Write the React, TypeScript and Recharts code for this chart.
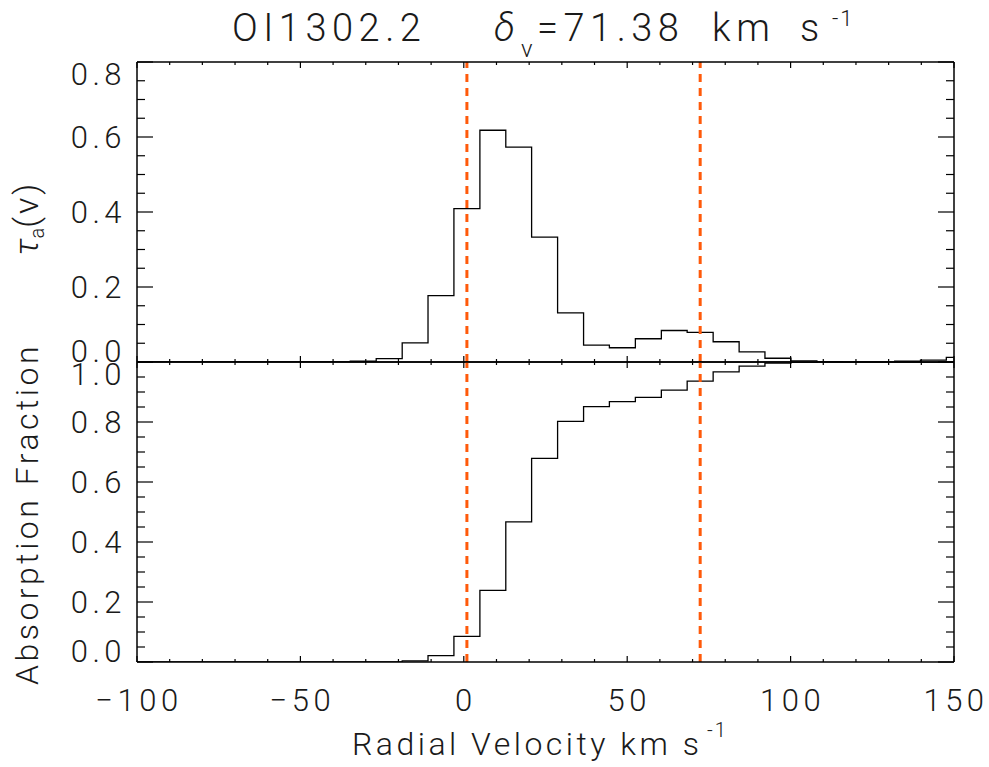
import React from 'react';
import { LineChart, Line, XAxis, YAxis, ReferenceLine } from 'recharts';

// ---- data ----
const velocity = [
  -102.1, -94.2, -86.2, -78.3, -70.4, -62.4, -54.5, -46.6, -38.7, -30.8, -22.8, -14.9, -7.0,
  0.95, 8.9, 16.8, 24.7, 32.7, 40.6, 48.5, 56.5, 64.4, 72.3, 80.3, 88.2, 96.1, 104.1, 112.0,
  119.9, 127.9, 135.8, 143.7, 151.6,
];
const tauA = [
  0, 0, 0, 0, 0, 0, 0, 0, 0, 0.002, 0.009, 0.051, 0.177,
  0.409, 0.618, 0.573, 0.333, 0.131, 0.045, 0.038, 0.062, 0.084, 0.079, 0.054, 0.027, 0.010, 0.003, 0.001,
  0.0, 0.0, 0.002, 0.005, 0.0125,
];
const absFraction = [
  0, 0, 0, 0, 0, 0, 0, 0, 0, 0, 0, 0.004, 0.021,
  0.0855, 0.239, 0.467, 0.679, 0.802, 0.851, 0.868, 0.882, 0.906, 0.936, 0.967, 0.986, 0.996, 0.999, 1.0,
  1.0, 1.0, 1.0, 1.0, 1.0,
];
const xTicks = [-100, -90, -80, -70, -60, -50, -40, -30, -20, -10, 0, 10, 20, 30, 40, 50, 60, 70, 80, 90, 100, 110, 120, 130, 140, 150];
const xMajorTicks = [-100, -50, 0, 50, 100, 150];
const xTickLabels = ['\u2212100', '\u221250', '0', '50', '100', '150'];
const tauTicks = [0, 0.05, 0.1, 0.15, 0.2, 0.25, 0.3, 0.35, 0.4, 0.45, 0.5, 0.55, 0.6, 0.65, 0.7, 0.75, 0.8];
const tauMajorTicks = [0, 0.2, 0.4, 0.6, 0.8];
const tauTickLabels = ['0.0', '0.2', '0.4', '0.6', '0.8'];
const fracTicks = [0, 0.05, 0.1, 0.15, 0.2, 0.25, 0.3, 0.35, 0.4, 0.45, 0.5, 0.55, 0.6, 0.65, 0.7, 0.75, 0.8, 0.85, 0.9, 0.95, 1.0];
const fracMajorTicks = [0, 0.2, 0.4, 0.6, 0.8, 1.0];
const fracTickLabels = ['0.0', '0.2', '0.4', '0.6', '0.8', '1.0'];
const vMin = 0.95;
const vMax = 72.33;
const lineName = 'OI1302.2';
const deltaV = '71.38';

const data = velocity.map((v, i) => ({ v, tau: tauA[i], frac: absFraction[i] }));

// ---- layout ----
const W = 989;
const H = 767;
const L = 137;
const R = 954;
const T1 = 62;
const MID = 362;
const B = 662;
const FONT = 'Roboto, "DejaVu Sans", sans-serif';
const TXT = '#1a1a1a';
const ORANGE = '#ff5a0a';

const majorIndex = (v: number, majors: number[]) => majors.findIndex((m) => Math.abs(m - v) < 1e-6);

function makeXTick(dir: number, showLabels: boolean) {
  return (props: any) => {
    const { x, y, payload } = props;
    const idx = majorIndex(payload.value, xMajorTicks);
    const len = idx >= 0 ? 6 : 3;
    return (
      <g>
        <line x1={x} x2={x} y1={y} y2={y + dir * len} stroke="#000" strokeWidth={1.2} />
        {showLabels && idx >= 0 && (
          <text
            x={x + 2}
            y={y + 38}
            textAnchor="middle"
            dominantBaseline="central"
            fontFamily={FONT}
            fontWeight={300}
            fontSize={31}
            letterSpacing={4.5}
            fill={TXT}
          >
            {xTickLabels[idx]}
          </text>
        )}
      </g>
    );
  };
}

function makeYTick(dir: number, majors: number[], labels: string[] | null, lo: number, hi: number) {
  return (props: any) => {
    const { x, y, payload } = props;
    const v = payload.value;
    const idx = majorIndex(v, majors);
    const len = idx >= 0 ? 16 : 8;
    let dy = 0;
    if (Math.abs(v - hi) < 1e-6) dy = 12;
    if (Math.abs(v - lo) < 1e-6) dy = -11;
    return (
      <g>
        <line x1={x} x2={x + dir * len} y1={y} y2={y} stroke="#000" strokeWidth={1.2} />
        {labels && idx >= 0 && (
          <text
            x={x - 11}
            y={y + dy}
            textAnchor="end"
            dominantBaseline="central"
            fontFamily={FONT}
            fontWeight={300}
            fontSize={31}
            letterSpacing={4.5}
            fill={TXT}
          >
            {labels[idx]}
          </text>
        )}
      </g>
    );
  };
}

const axisLine = { stroke: '#000', strokeWidth: 1.5 };

function Panel(props: {
  top: number;
  bottom: number;
  dataKey: string;
  yDomain: [number, number];
  yTicks: number[];
  yMajors: number[];
  yLabels: string[];
  showXLabels: boolean;
}) {
  const { top, bottom, dataKey, yDomain, yTicks, yMajors, yLabels, showXLabels } = props;
  return (
    <div style={{ position: 'absolute', left: 0, top: 0 }}>
      <LineChart
        width={W}
        height={H}
        data={data}
        margin={{ top: top - 1, left: L - 1, right: W - R - 1, bottom: H - bottom - 1 }}
      >
        <XAxis
          xAxisId="b"
          dataKey="v"
          type="number"
          domain={[-100, 150]}
          allowDataOverflow
          ticks={xTicks}
          interval={0}
          height={1}
          tickSize={0}
          tickMargin={0}
          axisLine={axisLine}
          tickLine={false}
          tick={makeXTick(-1, showXLabels)}
        />
        <XAxis
          xAxisId="t"
          orientation="top"
          dataKey="v"
          type="number"
          domain={[-100, 150]}
          allowDataOverflow
          ticks={xTicks}
          interval={0}
          height={1}
          tickSize={0}
          tickMargin={0}
          axisLine={axisLine}
          tickLine={false}
          tick={makeXTick(1, false)}
        />
        <YAxis
          yAxisId="l"
          type="number"
          domain={yDomain}
          allowDataOverflow
          ticks={yTicks}
          interval={0}
          width={1}
          tickSize={0}
          tickMargin={0}
          axisLine={axisLine}
          tickLine={false}
          tick={makeYTick(1, yMajors, yLabels, yDomain[0], yDomain[1])}
        />
        <YAxis
          yAxisId="r"
          orientation="right"
          type="number"
          domain={yDomain}
          allowDataOverflow
          ticks={yTicks}
          interval={0}
          width={1}
          tickSize={0}
          tickMargin={0}
          axisLine={axisLine}
          tickLine={false}
          tick={makeYTick(-1, yMajors, null, yDomain[0], yDomain[1])}
        />
        <Line
          xAxisId="b"
          yAxisId="l"
          dataKey={dataKey}
          type="step"
          stroke="#000"
          strokeWidth={1.3}
          dot={false}
          activeDot={false}
          isAnimationActive={false}
        />
        <ReferenceLine xAxisId="b" yAxisId="l" x={vMin} stroke={ORANGE} strokeWidth={3} strokeDasharray="8 6" />
        <ReferenceLine xAxisId="b" yAxisId="l" x={vMax} stroke={ORANGE} strokeWidth={3} strokeDasharray="8 6" />
      </LineChart>
    </div>
  );
}

export default function App() {
  const textProps = { fontFamily: FONT, fontWeight: 300, fill: TXT } as any;
  return (
    <div style={{ position: 'absolute', left: 0, top: 0, width: W, height: H, background: '#fff', overflow: 'hidden' }}>
      <Panel
        top={T1}
        bottom={MID}
        dataKey="tau"
        yDomain={[0, 0.8]}
        yTicks={tauTicks}
        yMajors={tauMajorTicks}
        yLabels={tauTickLabels}
        showXLabels={false}
      />
      <Panel
        top={MID}
        bottom={B}
        dataKey="frac"
        yDomain={[0, 1]}
        yTicks={fracTicks}
        yMajors={fracMajorTicks}
        yLabels={fracTickLabels}
        showXLabels={true}
      />
      <svg width={W} height={H} style={{ position: 'absolute', left: 0, top: 0, pointerEvents: 'none' }}>
        {/* title */}
        <text x={232} y={41} fontSize={38} letterSpacing={5.5} {...textProps}>{lineName}</text>
        <text x={494} y={41} fontSize={38} fontStyle="italic" {...textProps}>δ</text>
        <text x={521} y={57} fontSize={24} {...textProps}>v</text>
        <text x={537} y={41} fontSize={38} letterSpacing={5.5} {...textProps}>{'=' + deltaV}</text>
        <text x={712} y={41} fontSize={38} letterSpacing={5.5} {...textProps}>km</text>
        <text x={800} y={41} fontSize={38} letterSpacing={5.5} {...textProps}>s</text>
        <text x={832} y={26} fontSize={22} letterSpacing={2} {...textProps}>-1</text>
        {/* x title */}
        <text x={352} y={755} fontSize={32} letterSpacing={3.5} {...textProps}>Radial Velocity km s</text>
        <text x={707} y={737} fontSize={20} letterSpacing={2} {...textProps}>-1</text>
        {/* y titles */}
        <text
          x={38}
          y={514}
          fontSize={32}
          letterSpacing={3.5}
          textAnchor="middle"
          transform="rotate(-90, 38, 514)"
          {...textProps}
        >
          Absorption Fraction
        </text>
        <text x={38} y={218} fontSize={34} textAnchor="middle" transform="rotate(-90, 38, 218)" {...textProps}>
          <tspan fontStyle="italic">τ</tspan>
          <tspan fontSize={20} dy={6}>a</tspan>
          <tspan dy={-6} letterSpacing={3}>(v)</tspan>
        </text>
      </svg>
    </div>
  );
}
